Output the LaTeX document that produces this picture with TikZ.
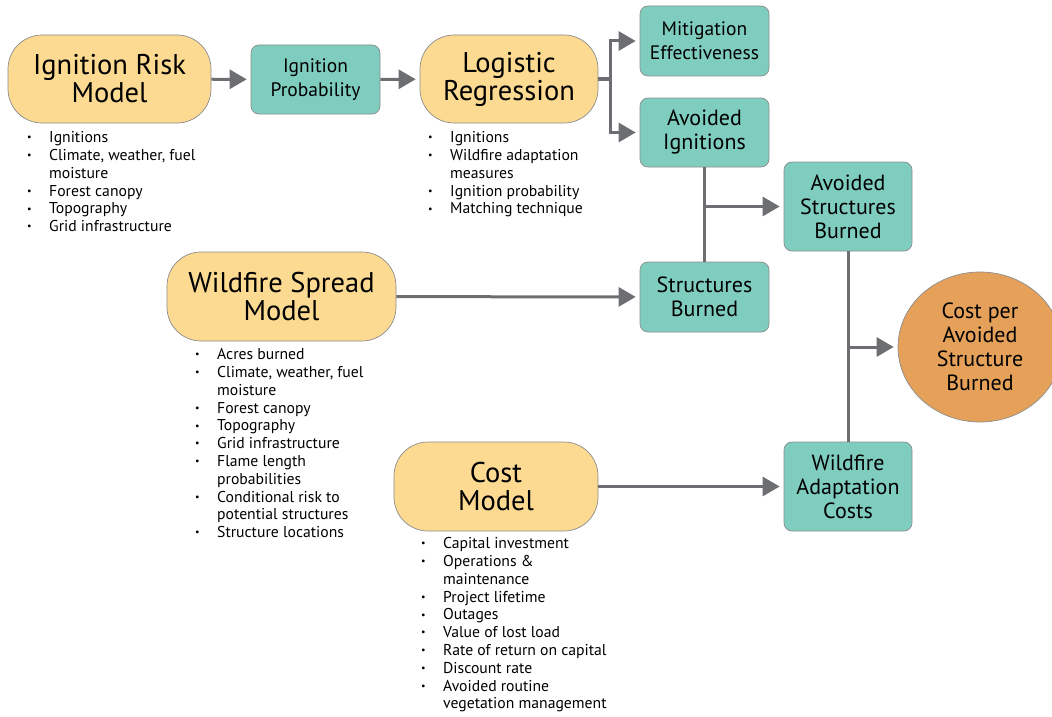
\documentclass[tikz,border=0pt]{standalone}
\usepackage{fontspec}
\setmainfont{PT Sans}
\usepackage{tikz}
\usetikzlibrary{arrows.meta,positioning,calc,shapes.geometric}
\definecolor{modelfill}{HTML}{FCDA92}
\definecolor{resultfill}{HTML}{7FCDBF}
\definecolor{costfill}{HTML}{E5A15A}
\definecolor{boxline}{HTML}{8C8C8C}
\definecolor{flowgray}{HTML}{6D6E71}
\newcommand{\bitem}{\makebox[22pt][l]{\raisebox{1.8pt}{\fontsize{10}{10}\selectfont\textbullet}}}
\newcommand{\bcont}{\hspace*{22pt}}
\tikzset{
	model/.style={
		rectangle,
		rounded corners=34pt,
		draw=boxline,
		fill=modelfill,
		line width=0.7pt,
		align=center,
		inner sep=0pt,
		font=\fontsize{28.5}{28}\selectfont
	},
	result/.style={
		rectangle,
		rounded corners=8pt,
		draw=boxline,
		fill=resultfill,
		line width=0.7pt,
		minimum width=129pt,
		align=center,
		inner sep=0pt,
		font=\fontsize{22}{24}\selectfont
	},
	small result/.style={
		result,
		font=\fontsize{19.5}{24}\selectfont
	},
	final/.style={
		ellipse,
		draw=boxline,
		fill=costfill,
		line width=0.7pt,
		minimum width=164pt,
		minimum height=150pt,
		align=center,
		inner sep=0pt,
		font=\fontsize{22}{24}\selectfont
	},
	factors/.style={
		anchor=north west,
		inner sep=0pt,
		align=left,
		font=\fontsize{15.7}{17.8}\selectfont
	},
	link/.style={
		draw=flowgray,
		line width=3pt
	},
	flow/.style={
		link,
		-{Triangle[length=17pt,width=19pt]},
		shorten >=4pt
	}
}

\begin{document}
\begin{tikzpicture}[x=1pt,y=-1pt]
	\useasboundingbox (0,0) rectangle (1052,717);
	\begin{scope}
		\clip (0,0) rectangle (1052,717);
		\node[final] (cost) at (980,347) {Cost per\\Avoided\\Structure\\Burned};
	\end{scope}

	% models
	\node[model,minimum width=203pt,minimum height=88pt] (irm) at (109.5,79) {Ignition Risk\\Model};
	\node[model,minimum width=178pt,minimum height=88pt] (lr) at (509,79) {Logistic\\Regression};
	\node[model,minimum width=229pt,minimum height=89pt] (wsm) at (281.5,296.5) {Wildfire Spread\\Model};
	\node[model,minimum width=204pt,minimum height=89pt] (cm) at (496,486.5) {Cost\\Model};

	% results
	\node[small result,minimum height=69pt] (ip) at (315.5,79.5) {Ignition\\Probability};
	\node[small result,minimum height=70pt] (me) at (704.5,41) {Mitigation\\Effectiveness};
	\node[result,minimum height=69pt] (ai) at (704.5,132.5) {Avoided\\Ignitions};
	\node[result,minimum height=70pt] (sb) at (704.5,297) {Structures\\Burned};
	\node[result,minimum width=128pt,minimum height=89pt] (asb) at (848,206.5) {Avoided\\Structures\\Burned};
	\node[result,minimum width=128pt,minimum height=89pt] (wac) at (848,486.5) {Wildfire\\Adaptation\\Costs};

	% inputs
	\node[factors] (irmlist) at (27,130) {\strut\bitem Ignitions\\
		\bitem Climate, weather, fuel\\
		\bcont moisture\\
		\bitem Forest canopy\\
		\bitem Topography\\
		\bitem Grid infrastructure};
	\node[factors] (lrlist) at (428,130) {\strut\bitem Ignitions\\
		\bitem Wildfire adaptation\\
		\bcont measures\\
		\bitem Ignition probability\\
		\bitem Matching technique};
	\node[factors] (wsmlist) at (195,347) {\strut\bitem Acres burned\\
		\bitem Climate, weather, fuel\\
		\bcont moisture\\
		\bitem Forest canopy\\
		\bitem Topography\\
		\bitem Grid infrastructure\\
		\bitem Flame length\\
		\bcont probabilities\\
		\bitem Conditional risk to\\
		\bcont potential structures\\
		\bitem Structure locations};
	\node[factors] (cmlist) at (421,536) {\strut\bitem Capital investment\\
		\bitem Operations \&\\
		\bcont maintenance\\
		\bitem Project lifetime\\
		\bitem Outages\\
		\bitem Value of lost load\\
		\bitem Rate of return on capital\\
		\bitem Discount rate\\
		\bitem Avoided routine\\
		\bcont vegetation management};

	% connectors
	\coordinate (lrfork) at (610,79);
	\draw[flow] (irm) -- (ip);
	\draw[flow] (ip) -- (lr);
	\draw[link] (lr.east) -- (lrfork);
	\draw[flow] (lrfork) |- (me);
	\draw[flow] (lrfork) |- (ai);
	\draw[link] (ai) -- (sb);
	\draw[flow] (ai |- asb) -- (asb);
	\draw[flow] (wsm) -- (sb);
	\draw[link] (asb) -- (wac);
	\draw[flow] (asb |- cost) -- (cost);
	\draw[flow] (cm) -- (wac);
\end{tikzpicture}
\end{document}
